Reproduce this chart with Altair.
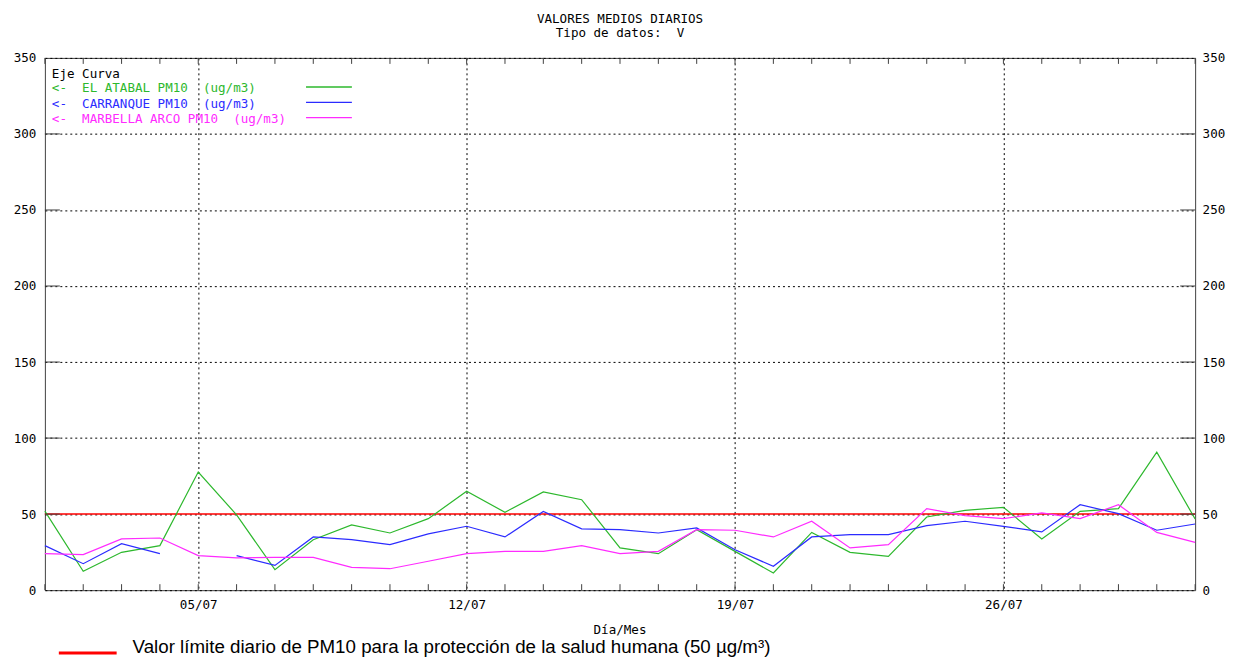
import altair as alt
import pandas as pd

# ---------------- data ----------------
days = list(range(1, 32))
atabal = [52, 12.4, 24.9, 29.3, 77.7, 49.5, 13.5, 33.2, 42.9, 37.6, 47, 65, 51.2, 64.6, 59.5,
          27.8, 24, 39.8, 25.5, 11.3, 38, 24.9, 22.2, 48.1, 52.5, 54.5, 33.7, 51.8, 53.6, 90.7, 46.8]
carranque = [29.3, 17.4, 30.6, 24, None, 22.7, 16.3, 35, 33.2, 29.9, 37, 42, 35, 51.8, 40.3,
             39.8, 37.6, 40.9, 26.6, 15.7, 35, 36.5, 36.5, 42.4, 45.3, 42, 38.3, 56.2, 50.3, 39.4, 43.5]
marbella = [24, 23.4, 33.7, 34.3, 22.7, 21.2, 21.6, 21.6, 15, 14.1, 19, 24, 25.5, 25.5, 29.3,
            24, 25.5, 39.8, 39.4, 35, 45.3, 27.8, 29.9, 53.6, 49, 47, 50.8, 47, 56.2, 38, 31.4]
series_names = ["EL ATABAL PM10  (ug/m3)", "CARRANQUE PM10  (ug/m3)", "MARBELLA ARCO PM10  (ug/m3)"]
series_colors = ["#2db82d", "#2b2bff", "#ff2bff"]
y_ticks = [0, 50, 100, 150, 200, 250, 300, 350]
x_tick_days = [5, 12, 19, 26]
x_tick_labels = ["05/07", "12/07", "19/07", "26/07"]
limit_value = 50
title_lines = ["VALORES MEDIOS DIARIOS", "Tipo de datos:  V"]
x_title = "Día/Mes"
legend_header = "Eje Curva"
limit_text = "Valor límite diario de PM10 para la protección de la salud humana (50 µg/m³)"

# ---------------- build tables ----------------
rows = []
for name, vals in zip(series_names, [atabal, carranque, marbella]):
    seg = 0
    for d, v in zip(days, vals):
        if v is None:
            seg += 1
            continue
        rows.append({"day": d, "value": v, "series": name, "seg": f"{name}-{seg}"})
df = pd.DataFrame(rows)

W, H = 1154, 534
MONO = "DejaVu Sans Mono"
FS = 12.6
NB = "\u00a0"


def nb(s):
    return s.replace(" ", NB)


label_expr = ""
for d, l in zip(x_tick_days, x_tick_labels):
    label_expr += f"datum.value == {d} ? '{l}' : "
label_expr += "''"

xscale = alt.Scale(domain=[1, 31], nice=False, zero=False)
yscale = alt.Scale(domain=[0, 350], nice=False)

xaxis = alt.Axis(values=x_tick_days, labelExpr=label_expr, grid=True, gridDash=[2, 3],
                 gridColor="black", gridOpacity=1, gridWidth=1, domain=False, ticks=False,
                 tickSize=0, labelFont=MONO, labelFontSize=FS, labelColor="black",
                 labelPadding=8, title=None)
yaxis_left = alt.Axis(values=y_ticks, grid=True, gridDash=[2, 3], gridColor="black",
                      gridOpacity=1, gridWidth=1, domain=False, ticks=False, tickSize=0,
                      labelFont=MONO, labelFontSize=FS, labelColor="black",
                      labelPadding=9, title=None, orient="left")
yaxis_right = alt.Axis(values=y_ticks, grid=False, domain=False, ticks=False, tickSize=0,
                       labelFont=MONO, labelFontSize=FS, labelColor="black",
                       labelPadding=7, title=None, orient="right")

X = alt.X("day:Q", scale=xscale, axis=xaxis)
Y = alt.Y("value:Q", scale=yscale, axis=yaxis_left)

limit = alt.Chart(pd.DataFrame({"value": [limit_value]})).mark_rule(
    color="#ff0000", strokeWidth=1.5).encode(y=Y)

lines = alt.Chart(df).mark_line(strokeWidth=1.2).encode(
    x=X, y=Y,
    color=alt.Color("series:N", scale=alt.Scale(domain=series_names, range=series_colors), legend=None),
    detail="seg:N",
)

tick_df = pd.DataFrame({"day": days})
tick_col = "#404040"
xt_bottom = alt.Chart(tick_df).mark_rule(color=tick_col, strokeWidth=1).encode(
    x=X, y=alt.value(H), y2=alt.value(H - 6))
xt_top = alt.Chart(tick_df).mark_rule(color=tick_col, strokeWidth=1).encode(
    x=X, y=alt.value(0), y2=alt.value(6))
ytick_df = pd.DataFrame({"value": y_ticks[1:-1]})
yt_left = alt.Chart(ytick_df).mark_rule(color=tick_col, strokeWidth=1).encode(
    y=Y, x=alt.value(0), x2=alt.value(15))
yt_right = alt.Chart(ytick_df).mark_rule(color=tick_col, strokeWidth=1).encode(
    y=Y, x=alt.value(W - 15), x2=alt.value(W))


def text_layer(txt, x, y, color="black", font=MONO, size=FS, align="left", baseline="middle"):
    return alt.Chart(pd.DataFrame({"t": [txt]})).mark_text(
        font=font, fontSize=size, color=color, align=align, baseline=baseline).encode(
        text="t:N", x=alt.value(x), y=alt.value(y))


annots = [
    text_layer(nb(title_lines[0]), W / 2, -39, align="center"),
    text_layer(nb(title_lines[1]), W / 2, -25, align="center"),
    text_layer(nb(legend_header), 7, 15.7),
    text_layer(x_title, W / 2, 574, align="center"),
]
for i, (name, col) in enumerate(zip(series_names, series_colors)):
    annots.append(text_layer(nb("<-  " + name), 7, 30.7 + 15.2 * i, color=col))
    annots.append(alt.Chart(pd.DataFrame({"s": [name]})).mark_rule(color=col, strokeWidth=1.3).encode(
        x=alt.value(262), x2=alt.value(308), y=alt.value(29.2 + 15.4 * i)))

annots.append(alt.Chart(pd.DataFrame({"s": [limit_value]})).mark_rule(color="#ff0000", strokeWidth=3).encode(
    x=alt.value(14), x2=alt.value(72), y=alt.value(597)))
annots.append(text_layer(limit_text, 88, 597, font="Liberation Sans", size=18.8, baseline="alphabetic"))

inner = alt.layer(limit, lines, xt_bottom, xt_top, yt_left, yt_right, *annots)

right_axis = alt.Chart(pd.DataFrame({"value": y_ticks})).mark_point(opacity=0).encode(
    y=alt.Y("value:Q", scale=yscale, axis=yaxis_right))

chart = alt.layer(inner, right_axis).resolve_scale(y="independent").properties(
    width=W, height=H,
    padding={"left": 37, "top": 49, "right": 40, "bottom": 66},
    autosize=alt.AutoSizeParams(type="none"),
    background="white",
).configure_view(stroke="#404040", strokeWidth=1)

chart.save("out.html", embed_options={"renderer": "svg", "actions": False})
